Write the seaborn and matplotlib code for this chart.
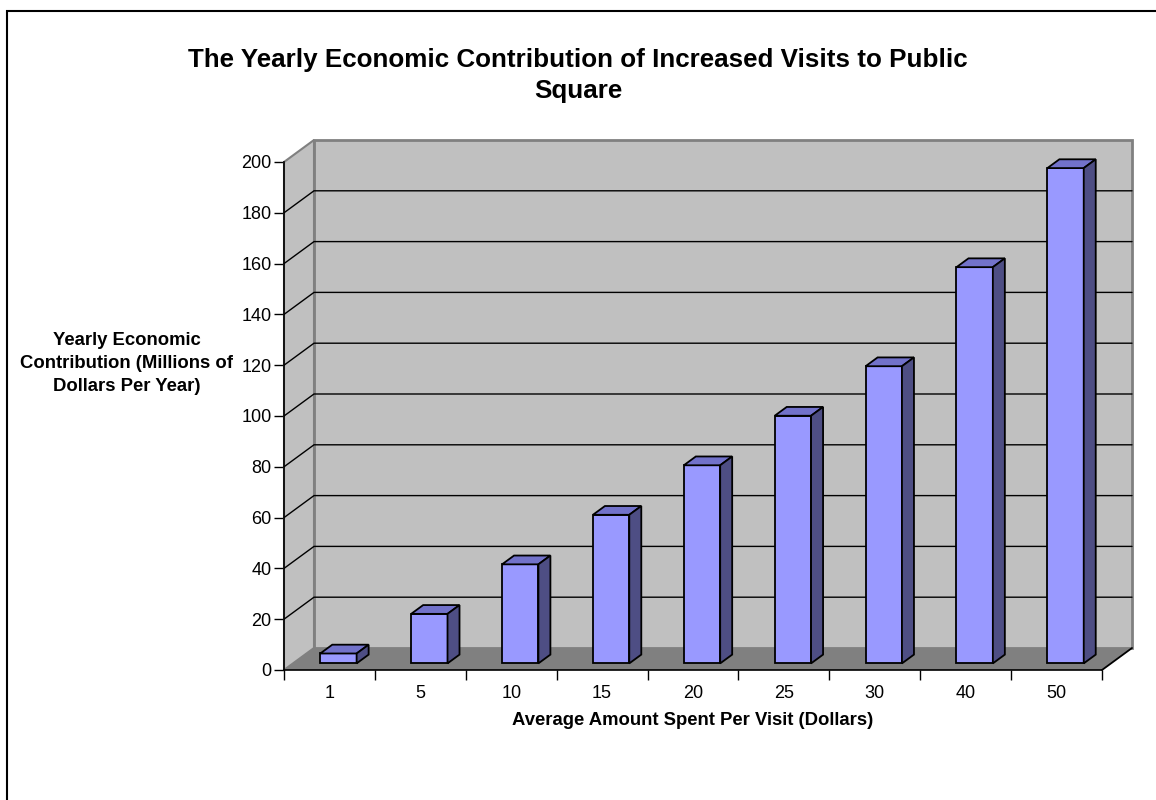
import numpy as np
import pandas as pd
import matplotlib
matplotlib.use("Agg")
import matplotlib.pyplot as plt
import seaborn as sns
from matplotlib.patches import Polygon, Rectangle
from matplotlib.lines import Line2D
from matplotlib.transforms import Affine2D, IdentityTransform

# Average amount spent per visit (dollars) and yearly contribution (millions of dollars)
amounts = ["1", "5", "10", "15", "20", "25", "30", "40", "50"]
contribution = [3.9, 19.5, 39.0, 58.5, 78.0, 97.5, 117.0, 156.0, 195.0]
y_ticks = list(range(0, 201, 20))

sns.set_style("white")
plt.rcParams["font.family"] = ["Liberation Sans", "DejaVu Sans"]
plt.rcParams.update({"text.color": "black", "axes.labelcolor": "black",
                     "xtick.color": "black", "ytick.color": "black"})

W, H = 1156, 800
fig = plt.figure(figsize=(W / 100, H / 100), dpi=100)
ax = fig.add_axes([284 / W, 1 - 670 / H, (1102 - 284) / W, (670 - 162) / H])

df = pd.DataFrame({"amount": amounts, "contribution": contribution})
sns.barplot(data=df, x="amount", y="contribution", order=amounts,
            color="#9999FF", saturation=1, width=0.4, edgecolor="black",
            linewidth=1.3, errorbar=None, ax=ax, zorder=5)
bars = list(ax.patches)

ax.set_xlim(-0.5, len(amounts) - 0.5)
ax.set_ylim(y_ticks[0], y_ticks[-1])
ax.patch.set_visible(False)

# oblique projection: depth 0 = front plane, depth 1 = back wall (pixels)
DX, DY = 30, 22


def proj(x, y, d):
    px, py = ax.transData.transform((x, y))
    return (px + DX * d, py + DY * d)


def face(points, **kw):
    ax.add_patch(Polygon([proj(*p) for p in points], closed=True,
                         transform=IdentityTransform(), clip_on=False, **kw))


def seg(points, **kw):
    pts = [proj(*p) for p in points]
    ax.add_line(Line2D([p[0] for p in pts], [p[1] for p in pts],
                       transform=IdentityTransform(), clip_on=False, **kw))


x0, x1 = -0.5, len(amounts) - 0.5
ymax = y_ticks[-1]

# back wall, side wall and floor of the box
face([(x0, 0, 1), (x1, 0, 1), (x1, ymax, 1), (x0, ymax, 1)],
     fc="#C0C0C0", ec="#808080", lw=2, zorder=0.5)
face([(x0, 0, 0), (x0, ymax, 0), (x0, ymax, 1), (x0, 0, 1)],
     fc="#C0C0C0", ec="#808080", lw=1.5, zorder=0.6)
face([(x0, 0, 0), (x1, 0, 0), (x1, 0, 1), (x0, 0, 1)],
     fc="#808080", ec="none", zorder=1)

# gridlines across side wall and back wall
for v in y_ticks[1:-1]:
    seg([(x0, v, 0), (x0, v, 1), (x1, v, 1)], color="black", lw=1, zorder=2)
seg([(x1, 0, 0), (x1, 0, 1)], color="black", lw=1.3, zorder=3)

# 3D bars: front face from seaborn, plus top and side faces
FRONT_D, BACK_D = 0.3, 0.7
for p in bars:
    bx, bw, bh = p.get_x(), p.get_width(), p.get_height()
    p.set_transform(ax.transData + Affine2D().translate(DX * FRONT_D, DY * FRONT_D))
    p.set_clip_on(False)
    face([(bx, bh, FRONT_D), (bx + bw, bh, FRONT_D),
          (bx + bw, bh, BACK_D), (bx, bh, BACK_D)],
         fc="#7272CA", ec="black", lw=1.3, zorder=5)
    face([(bx + bw, 0, FRONT_D), (bx + bw, bh, FRONT_D),
          (bx + bw, bh, BACK_D), (bx + bw, 0, BACK_D)],
         fc="#4E4E84", ec="black", lw=1.3, zorder=5)

for side in ["top", "right"]:
    ax.spines[side].set_visible(False)
for side in ["left", "bottom"]:
    ax.spines[side].set_color("black")
    ax.spines[side].set_linewidth(1.2)
    ax.spines[side].set_zorder(4)

ax.set_yticks(y_ticks)
ax.tick_params(axis="y", left=True, direction="out", length=7, width=1,
               color="black", labelsize=13, pad=2)
ax.set_xticks(range(len(amounts)))
ax.set_xticklabels(amounts)
ax.set_xticks(np.arange(-0.5, len(amounts), 1), minor=True)
ax.tick_params(axis="x", which="major", bottom=True, length=0, pad=11, labelsize=13)
ax.tick_params(axis="x", which="minor", bottom=True, length=7.5, width=1,
               direction="out", color="black")

ax.set_xlabel("Average Amount Spent Per Visit (Dollars)", fontsize=13.3,
              fontweight="bold", labelpad=7)
ax.set_ylabel("Yearly Economic\nContribution (Millions of\nDollars Per Year)",
              rotation=0, fontsize=13.3, fontweight="bold", ha="center",
              va="center", multialignment="center", linespacing=1.46)
ax.yaxis.set_label_coords(-0.192, 0.604)

fig.text(0.5, 1 - 75.5 / H,
         "The Yearly Economic Contribution of Increased Visits to Public\nSquare",
         ha="center", va="center", fontsize=18.7, fontweight="bold", linespacing=1.39)

# chart frame
fig.add_artist(Rectangle((7 / W, -0.1), 1.2, (1 - 11 / H) + 0.1,
                         transform=fig.transFigure, fill=False, ec="black", lw=1.5))

fig.savefig("out.png", dpi=100, facecolor="white")
